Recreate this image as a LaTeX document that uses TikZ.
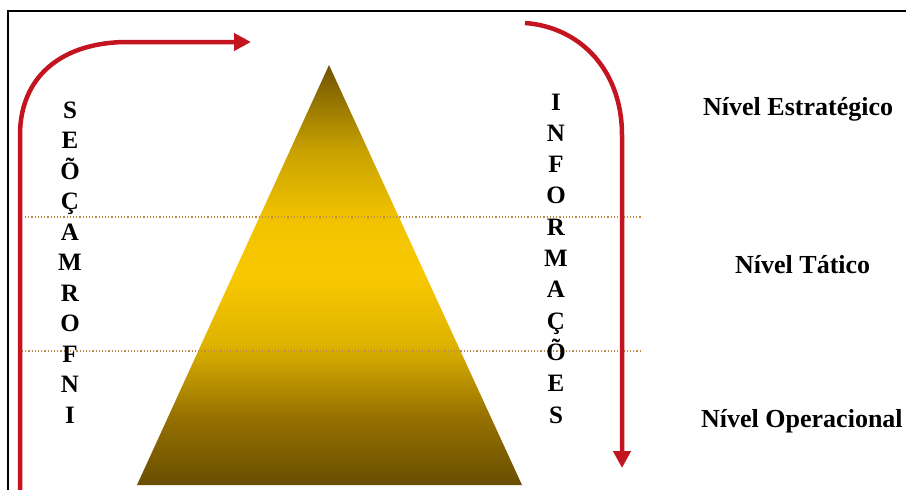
\documentclass[tikz,border=0pt]{standalone}
\usepackage{fontspec}
\setmainfont{Liberation Serif}
\usetikzlibrary{arrows.meta}
\definecolor{arrowred}{RGB}{196,20,32}
\definecolor{dotcol}{RGB}{190,140,70}
\definecolor{pyrD}{RGB}{104,78,0}
\definecolor{pyrM}{RGB}{150,112,0}
\definecolor{pyrB}{RGB}{248,200,0}
\definecolor{pyrT}{RGB}{112,84,0}
\pgfdeclareverticalshading{pyr}{100bp}{color(0bp)=(pyrD); color(25bp)=(pyrD); color(33bp)=(pyrM); color(42bp)=(pyrB!90!black); color(50bp)=(pyrB); color(57bp)=(pyrB!97!black); color(65bp)=(pyrB!80!black); color(75bp)=(pyrT); color(100bp)=(pyrT)}
\tikzset{
  redarrow/.style={draw=arrowred, line width=4.5pt, -{Triangle[length=17pt,width=17pt]}},
  levelline/.style={draw=dotcol, line width=1.2pt, dotted},
  colletter/.style={font=\fontsize{25}{29}\selectfont\bfseries, inner sep=0pt, anchor=base},
  levellabel/.style={font=\fontsize{26}{30}\selectfont\bfseries, inner sep=0pt, anchor=base west},
  framebox/.style={draw=black, line width=2pt}
}
\begin{document}
\begin{tikzpicture}[x=1pt,y=-1pt]
\useasboundingbox (0,0) rectangle (906,490);
\fill[white] (0,0) rectangle (906,490);
% frame
\coordinate (fbl) at (7.5,495);
\coordinate (ftl) at (7.5,10.5);
\coordinate (ftr) at (910,10.5);
\draw[framebox] (fbl) -- (ftl) -- (ftr);
% pyramid
\coordinate (apex) at (329,65);
\coordinate (bl) at (137,485);
\coordinate (br) at (522,485);
\shade[shading=pyr] (apex) -- (br) -- (bl) -- cycle;
% level separators
\coordinate (d1a) at (25,217);
\coordinate (d1b) at (642,217);
\coordinate (d2a) at (22,351);
\coordinate (d2b) at (642,351);
\draw[levelline] (d1a) -- (d1b);
\draw[levelline] (d2a) -- (d2b);
% arrows
\coordinate (la0) at (20,492);
\coordinate (la1) at (20,135);
\coordinate (la2) at (128,42);
\coordinate (la3) at (251,42);
\draw[redarrow] (la0) -- (la1) .. controls (20,78) and (60,42) .. (la2) -- (la3);
\coordinate (ra0) at (525,23);
\coordinate (ra1) at (622,135);
\coordinate (ra2) at (622,468);
\draw[redarrow] (ra0) .. controls (580,27) and (622,70) .. (ra1) -- (ra2);
% letter columns
\foreach \ch [count=\i from 0] in {S,E,Õ,Ç,A,M,R,O,F,N,I}
  \node[colletter] (l\i) at (70,{118+30.5*\i}) {\ch};
\foreach \ch [count=\i from 0] in {I,N,F,O,R,M,A,Ç,Õ,E,S}
  \node[colletter] (r\i) at (556,{110+31.3*\i}) {\ch};
% level labels
\node[levellabel] (ne) at (703,115) {Nível Estratégico};
\node[levellabel] (nt) at (735,273) {Nível Tático};
\node[levellabel] (no) at (701,427) {Nível Operacional};
\end{tikzpicture}
\end{document}
